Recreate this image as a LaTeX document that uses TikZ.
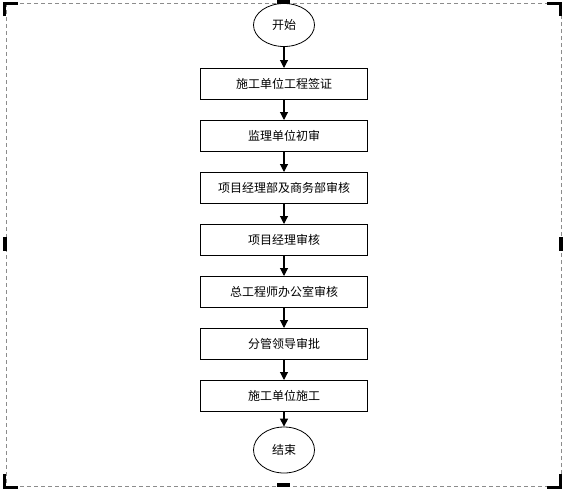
\documentclass[tikz,border=0pt]{standalone}
\usepackage{fontspec}
\setmainfont{Noto Sans CJK SC}
\usetikzlibrary{arrows.meta,shapes.geometric}
\begin{document}
\begin{tikzpicture}[x=1pt,y=-1pt,
  stepbox/.style={draw=black,line width=1pt,minimum width=167pt,minimum height=31pt,inner sep=0pt,font=\fontsize{12pt}{14pt}\selectfont},
  term/.style={ellipse,draw=black,line width=0.8pt,minimum width=61pt,inner sep=0pt,font=\fontsize{12pt}{14pt}\selectfont},
  flow/.style={line width=1.1pt,-{Triangle[length=8pt,width=8pt]}},
  frame/.style={draw=black!45,line width=0.8pt,dash pattern=on 4pt off 3pt},
  handlemark/.style={line width=3pt,line cap=butt,line join=miter}
]
\useasboundingbox (0,0) rectangle (564,490);
% frame
\draw[frame] (6,3) rectangle (561,486);
\draw[handlemark] (4.5,16) -- (4.5,3.5) -- (18,3.5);
\draw[handlemark] (547,3.5) -- (560.5,3.5) -- (560.5,16);
\draw[handlemark] (4.5,474) -- (4.5,487) -- (18,487);
\draw[handlemark] (547,487) -- (560.5,487) -- (560.5,474);
\fill (3,237) rectangle (7,251);
\fill (559,237) rectangle (563,251);
\fill (277,0) rectangle (290,4);
\fill (277,483) rectangle (290,487);
% nodes
\node[term,minimum height=43pt] (s) at (284,25) {开始};
\node[stepbox] (b1) at (284,84) {施工单位工程签证};
\node[stepbox] (b2) at (284,136) {监理单位初审};
\node[stepbox] (b3) at (284,188) {项目经理部及商务部审核};
\node[stepbox] (b4) at (284,240) {项目经理审核};
\node[stepbox] (b5) at (284,292) {总工程师办公室审核};
\node[stepbox] (b6) at (284,344) {分管领导审批};
\node[stepbox] (b7) at (284,396) {施工单位施工};
\node[term,minimum height=46pt] (e) at (284,450) {结束};
% connectors
\draw[flow] (s) -- (s |- b1.north);
\foreach \a/\b in {b1/b2,b2/b3,b3/b4,b4/b5,b5/b6,b6/b7} \draw[flow] (\a.south -| s) -- (\b.north -| s);
\draw[flow] (b7.south -| s) -- (e);
\end{tikzpicture}
\end{document}
